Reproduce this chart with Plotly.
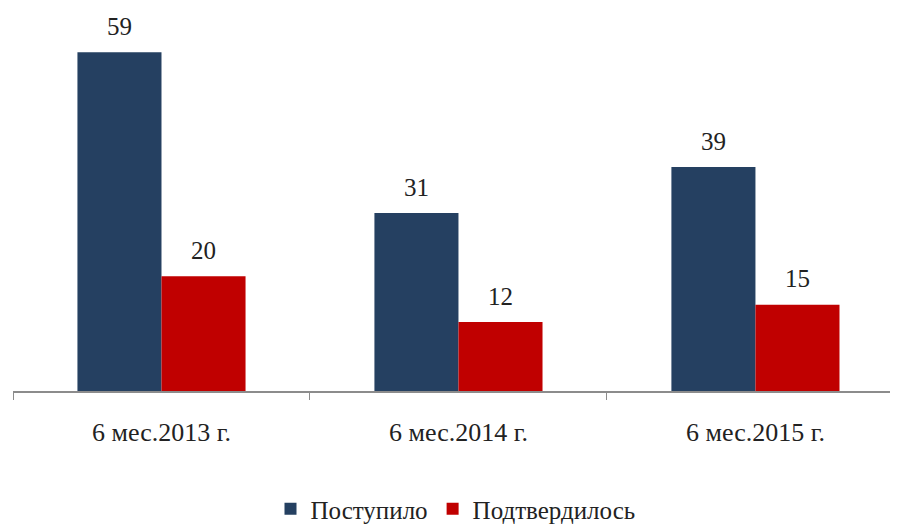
import plotly.graph_objects as go

categories = ["6 мес.2013 г.", "6 мес.2014 г.", "6 мес.2015 г."]
received = [59, 31, 39]
confirmed = [20, 12, 15]
series_names = ["Поступило", "Подтвердилось"]
colors = ["#254061", "#C00000"]

W, H = 890, 519
ml, mr, mt, mb = 5, 0, 27, 136
xrange_ = [-0.5, 2.48]
bargap = 0.434
cat_px = (W - ml - mr) / (xrange_[1] - xrange_[0])
bar_px = cat_px * (1 - bargap) / 2
plot_h = H - mt - mb

FONT = "Liberation Serif, Times New Roman, serif"

fig = go.Figure()
for name, vals, col in zip(series_names, [received, confirmed], colors):
    fig.add_trace(go.Bar(x=categories, y=vals, name=name, marker_color=col,
                         marker_line_width=0))

annotations = []
for vals, sgn in [(received, -1), (confirmed, 1)]:
    for c, v in zip(categories, vals):
        annotations.append(dict(x=c, y=v, xref="x", yref="y", text=str(v),
                                showarrow=False, xshift=sgn * bar_px / 2,
                                yshift=26, yanchor="middle",
                                font=dict(family=FONT, size=25, color="#222")))

fig.update_layout(
    width=W, height=H,
    margin=dict(l=ml, r=mr, t=mt, b=mb, autoexpand=False),
    paper_bgcolor="white", plot_bgcolor="white",
    barmode="group", bargap=bargap, bargroupgap=0,
    font=dict(family=FONT, size=26, color="#222"),
    annotations=annotations,
    legend=dict(orientation="h", x=0.5, xanchor="center", yref="paper",
                y=-118 / plot_h, yanchor="middle",
                font=dict(family=FONT, size=25, color="#222"),
                itemwidth=30, tracegroupgap=0),
    xaxis=dict(type="category", range=xrange_, showline=True, linecolor="#8c8c8c",
               linewidth=1.5, ticks="outside", tickson="boundaries", ticklen=7,
               tickcolor="#8c8c8c", showgrid=False, ticklabelstandoff=17,
               tickfont=dict(family=FONT, size=26, color="#222")),
    yaxis=dict(range=[0, 62], visible=False, showgrid=False),
)

fig.write_html("out.html")
